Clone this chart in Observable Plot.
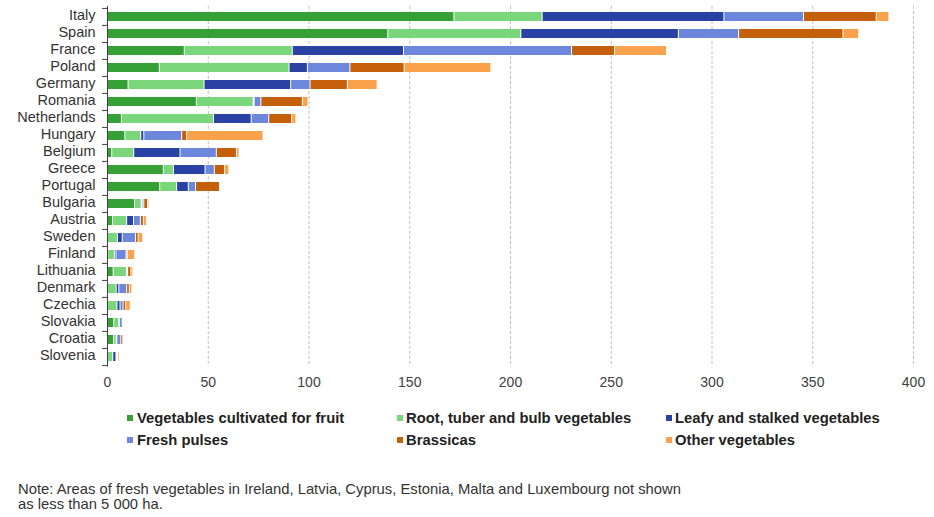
<!DOCTYPE html>
<html>
<head>
<meta charset="utf-8">
<script src="https://cdn.jsdelivr.net/npm/d3@7"></script>
<script src="https://cdn.jsdelivr.net/npm/@observablehq/plot@0.6"></script>
<style>
  html, body { margin: 0; padding: 0; background: #fff; }
  #wrap { position: relative; width: 934px; height: 517px; font-family: "Liberation Sans", Arial, sans-serif; }
  #chart { position: absolute; left: 0; top: 0; }
  .leg { position: absolute; font-weight: bold; font-size: 14.8px; color: #222; white-space: nowrap; line-height: 16px; }
  .sw { position: absolute; width: 6px; height: 6px; }
  #note { position: absolute; left: 18px; top: 482px; font-size: 14.8px; color: #333; line-height: 15px; white-space: nowrap; }
</style>
</head>
<body>
<div id="wrap">
  <div id="chart"></div>
  <div id="legend"></div>
  <div id="note">Note: Areas of fresh vegetables in Ireland, Latvia, Cyprus, Estonia, Malta and Luxembourg not shown<br>as less than 5 000 ha.</div>
</div>
<script>
const countries = ["Italy","Spain","France","Poland","Germany","Romania","Netherlands","Hungary","Belgium","Greece","Portugal","Bulgaria","Austria","Sweden","Finland","Lithuania","Denmark","Czechia","Slovakia","Croatia","Slovenia"];
const seriesNames = ["Vegetables cultivated for fruit","Root, tuber and bulb vegetables","Leafy and stalked vegetables","Fresh pulses","Brassicas","Other vegetables"];
const seriesColors = ["#35a035","#7ad67a","#2a42a4","#6d87dc","#c45f0a","#f9a24b"];
const fruit    = [172.4,139.6,38.6,26.2,10.7,44.6,7.4,9.1,2.6,28.2,26.4,13.9,3.0,0.5,0.6,3.3,0.5,0.5,3.6,3.5,0.5];
const root     = [43.8,66.0,53.6,64.4,37.7,28.2,45.7,7.9,10.9,5.0,8.4,3.3,7.0,4.9,3.3,6.6,4.3,4.7,2.5,1.3,2.6];
const leafy    = [90.2,78.2,55.2,9.1,43.0,0.5,18.7,1.5,23.0,15.7,5.8,0.5,3.4,2.4,0.8,0.3,1.3,1.5,0.3,0.3,1.6];
const pulses   = [39.5,29.9,83.4,21.1,9.6,3.3,8.7,18.8,18.0,4.6,3.6,0.8,3.4,6.6,5.0,0.3,3.9,1.5,1.4,2.0,0.3];
const brassicas= [36.1,51.8,21.3,26.9,18.5,20.6,11.4,2.5,10.0,5.1,11.9,1.9,1.5,1.3,0.6,1.6,1.3,1.3,0.1,1.0,0.5];
const other    = [6.3,7.8,25.8,43.1,14.8,2.8,2.1,37.9,1.3,2.1,0.2,0.7,1.5,2.3,3.7,1.0,1.3,2.3,0.1,0.2,0.8];
const xTicks = [0,50,100,150,200,250,300,350,400];

const seriesValues = [fruit, root, leafy, pulses, brassicas, other];
const table = [];
seriesValues.forEach((vals, si) => {
  countries.forEach((c, ci) => table.push({country: c, series: seriesNames[si], value: vals[ci]}));
});

const plotTop = 6, plotBottom = 366.5;
const step = (plotBottom - plotTop) / countries.length;
const pad = 0.47;

const chart = Plot.plot({
  width: 934,
  height: 397,
  marginLeft: 107,
  marginRight: 21,
  marginTop: plotTop,
  marginBottom: 397 - plotBottom,
  style: {fontFamily: "'Liberation Sans', Arial, sans-serif", background: "white"},
  x: {domain: [0, 400]},
  y: {domain: countries, paddingInner: pad, paddingOuter: pad / 2},
  color: {domain: seriesNames, range: seriesColors},
  marks: [
    Plot.gridX(xTicks.filter(d => d > 0), {stroke: "#c0c0c0", strokeOpacity: 1, strokeDasharray: "3,2"}),
    Plot.barX(table, {x: "value", y: "country", fill: "series", order: seriesNames, insetRight: 1}),
    Plot.ruleX([0], {stroke: "#404040", strokeWidth: 1}),
    Plot.axisX({ticks: xTicks, tickSize: 0, tickPadding: 10, fontSize: 14, fill: "#404040", label: null}),
    Plot.axisY({tickSize: 0, tickPadding: 12, fontSize: 14.5, fill: "#333", label: null, dy: -1.5}),
    Plot.axisY({tickSize: 5, text: null, stroke: "#404040", dy: -step / 2, label: null}),
    Plot.axisY({ticks: [countries[countries.length - 1]], tickSize: 5, text: null, stroke: "#404040", dy: step / 2, label: null})
  ]
});
document.getElementById("chart").appendChild(chart);

// legend
const legPos = [
  {sx: 127, tx: 137, y: 410}, {sx: 397, tx: 406, y: 410}, {sx: 666, tx: 675, y: 410},
  {sx: 127, tx: 137, y: 432}, {sx: 397, tx: 406, y: 432}, {sx: 666, tx: 675, y: 432}
];
const legend = document.getElementById("legend");
seriesNames.forEach((name, i) => {
  const p = legPos[i];
  const sw = document.createElement("div");
  sw.className = "sw";
  sw.style.left = p.sx + "px";
  sw.style.top = (p.y + 5) + "px";
  sw.style.background = seriesColors[i];
  legend.appendChild(sw);
  const t = document.createElement("div");
  t.className = "leg";
  t.style.left = p.tx + "px";
  t.style.top = p.y + "px";
  t.textContent = name;
  legend.appendChild(t);
});
</script>
</body>
</html>
